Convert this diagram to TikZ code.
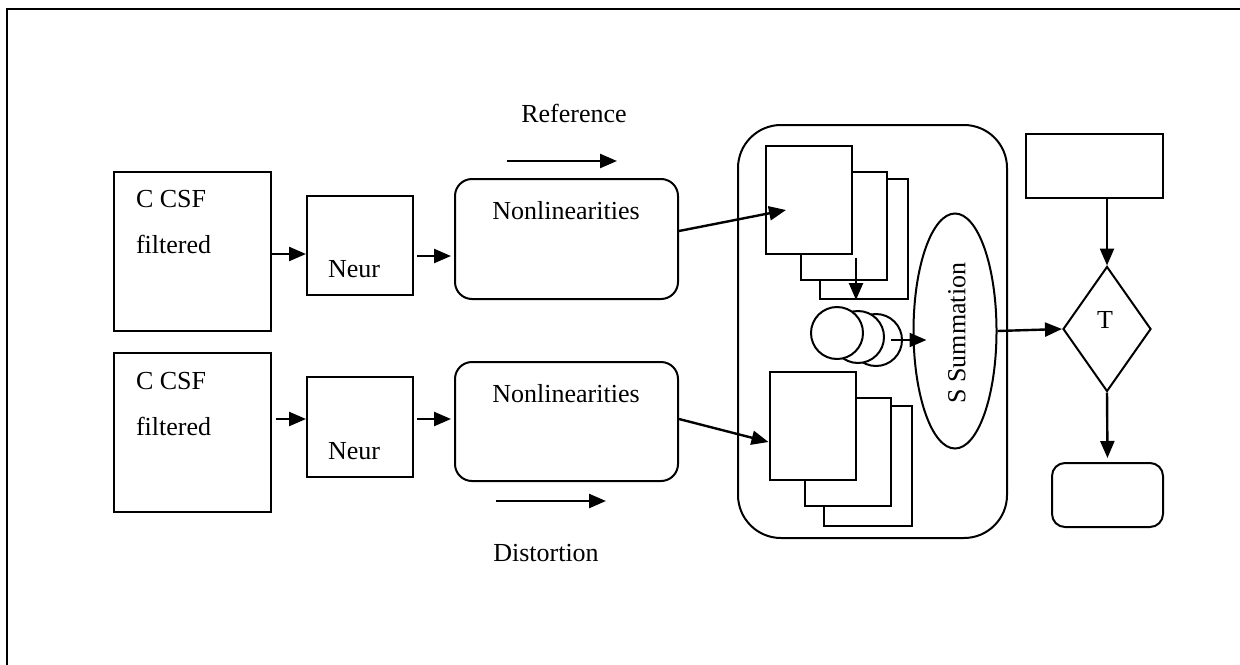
\documentclass[tikz,border=0pt]{standalone}
\usepackage{fontspec}
\setmainfont{Liberation Serif}
\usetikzlibrary{shapes,arrows.meta,positioning}

\begin{document}
\begin{tikzpicture}[
    x=0.5pt, y=-0.5pt,
    >={Triangle[length=8.5pt,width=7pt]},
    font=\fontsize{13}{15}\selectfont,
    line width=1pt,
    blk/.style={draw, rectangle, inner sep=0pt},
    filterbox/.style={blk, minimum width=78.5pt, minimum height=79.5pt},
    neurbox/.style={blk, minimum width=53pt, minimum height=49.5pt},
    nonlin/.style={blk, rounded corners=8.5pt, minimum width=111.5pt, minimum height=60pt},
    sheet/.style={blk, fill=white, minimum width=43pt, minimum height=54pt},
    backsheet/.style={sheet, minimum width=44pt, minimum height=60pt},
    disc/.style={draw, circle, fill=white, inner sep=0pt, minimum size=26pt},
    lbl/.style={inner sep=0pt, anchor=base west},
    clbl/.style={inner sep=0pt, anchor=base},
    arr/.style={->, line width=1.2pt}
]
\useasboundingbox (0,0) rectangle (1240,664);
\draw[line width=1.4pt] (1250,9) -- (7,9) -- (7,674);

% input branches
\node[filterbox] (csf1) at (192.5,251) {};
\node[filterbox] (csf2) at (192.5,432.5) {};
\node[lbl] (csf1a) at (135,207) {C CSF};
\node[lbl] (csf1b) at (135,253) {filtered};
\node[lbl] (csf2a) at (135,389) {C CSF};
\node[lbl] (csf2b) at (135,435) {filtered};

\node[neurbox] (neur1) at (360,245) {};
\node[neurbox, minimum height=50pt] (neur2) at (360,426.5) {};
\node[clbl] (neur1t) at (354,277) {Neur};
\node[clbl] (neur2t) at (354,459) {Neur};

\node[nonlin] (nl1) at (566.5,239) {};
\node[nonlin, minimum height=59.5pt] (nl2) at (566.5,421.5) {};
\node[clbl] (nl1t) at (566,219) {Nonlinearities};
\node[clbl] (nl2t) at (566,402) {Nonlinearities};

\node[clbl] (reft) at (574,122) {Reference};
\coordinate (ref0) at (507,161);
\coordinate (ref1) at (617,161);
\node[clbl] (distt) at (546,561) {Distortion};
\coordinate (dist0) at (496,501);
\coordinate (dist1) at (606,501);

% pooling block
\node[blk, rounded corners=21.5pt, minimum width=134.5pt, minimum height=206.5pt] (grp) at (872.5,331.5) {};

\node[backsheet] (sa3) at (864,239) {};
\node[sheet] (sa2) at (844,225.5) {};
\node[sheet] (sa1) at (809,199.5) {};
\node[backsheet] (sb3) at (868,466) {};
\node[sheet] (sb2) at (848,451.5) {};
\node[sheet] (sb1) at (812.5,426) {};

\node[disc] (c3) at (876,340) {};
\node[disc] (c2) at (858,337) {};
\node[disc] (c1) at (837,333) {};

\node[draw, ellipse, inner sep=0pt, minimum width=41.5pt, minimum height=117.5pt] (sum) at (955,331) {};
\node[rotate=90, inner sep=0pt] (sumt) at (957,333) {S Summation};

% decision
\node[blk, minimum width=68.5pt, minimum height=32pt] (topbox) at (1094.5,166) {};
\node[draw, diamond, inner sep=0pt, minimum width=44pt, minimum height=62.5pt] (dec) at (1107,329) {};
\node[inner sep=0pt] (dect) at (1105,320) {T};
\node[blk, rounded corners=6.5pt, minimum width=55.5pt, minimum height=32pt] (endbox) at (1107.5,495) {};

% connectors
\draw[arr] (ref0) -- (ref1);
\draw[arr] (dist0) -- (dist1);
\draw[arr] ([yshift=-1.5pt]csf1.east) -- ([yshift=-1.5pt]csf1.east -| neur1.west);
\draw[arr] ([xshift=2pt,yshift=6.75pt]csf2.east) -- ([yshift=6.75pt]csf2.east -| neur2.west);
\draw[arr, shorten >=1.5pt] ([xshift=1.5pt,yshift=-5.5pt]neur1.east) -- ([yshift=-5.5pt]neur1.east -| nl1.west);
\draw[arr, shorten >=1.5pt] ([xshift=1.5pt,yshift=3.75pt]neur2.east) -- ([yshift=3.75pt]neur2.east -| nl2.west);
\draw[arr] ([yshift=4pt]nl1.east) -- ([xshift=10.5pt,yshift=-5.25pt]sa1.west);
\draw[arr] ([yshift=1.25pt]nl2.east) -- ([yshift=-8pt]sb1.west);
\draw[arr] ([xshift=1.5pt,yshift=-1.5pt]sa1.south east) -- ([xshift=1.5pt]sa1.south east |- sa3.south);
\draw[arr] ([xshift=7.5pt]c3.center) -- ([xshift=7pt]sum.west |- c3.center);
\draw[arr] (sum.east) -- (dec.west);
\draw[arr] (topbox.south -| dec.north) -- (dec.north);
\draw[arr, shorten >=2pt] (dec.south) -- (endbox.north);
\end{tikzpicture}
\end{document}
